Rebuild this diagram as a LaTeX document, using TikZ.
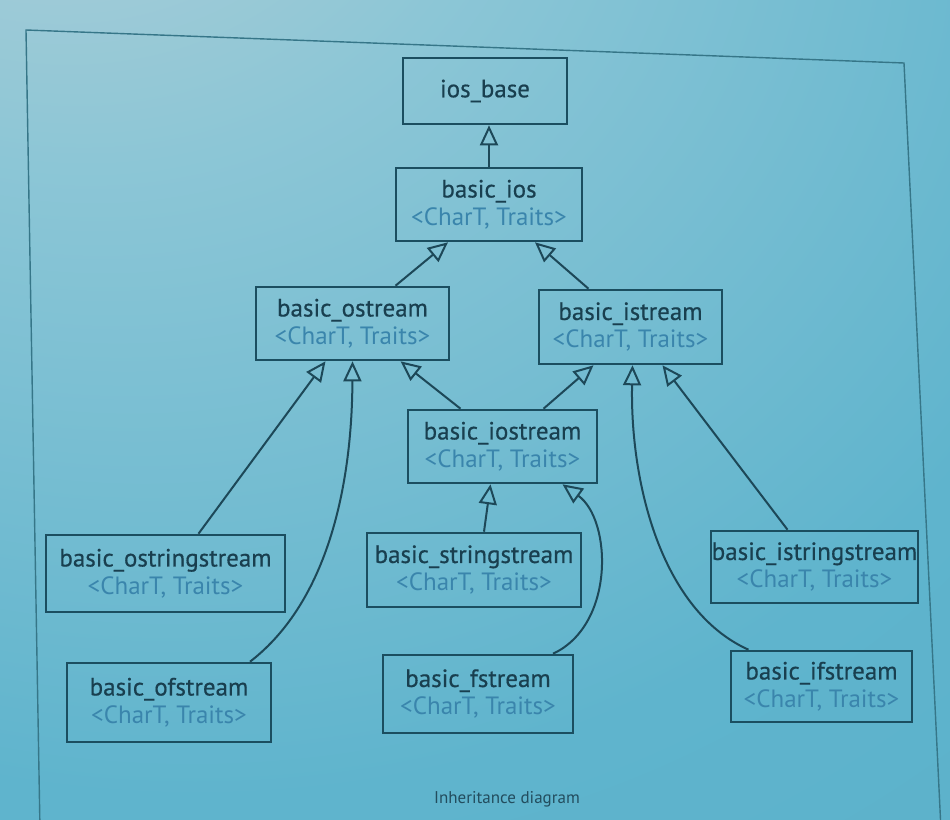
\documentclass[tikz,border=0pt]{standalone}
\usepackage{fontspec}
\setmainfont{PT Sans}
\usetikzlibrary{arrows.meta}
\definecolor{bgA}{HTML}{BED2D8}
\definecolor{bgB}{HTML}{8CC6D6}
\definecolor{bgC}{HTML}{5FB4CD}
\definecolor{bgD}{HTML}{4EA7C0}
\definecolor{boxc}{HTML}{1B4E60}
\definecolor{titlec}{HTML}{193F4F}
\definecolor{paramc}{HTML}{3A85AC}
\definecolor{linec}{HTML}{1D4858}
\definecolor{framec}{HTML}{367688}
\definecolor{captc}{HTML}{234D5E}
\pgfdeclareradialshading{photobg}{\pgfpoint{-25bp}{45bp}}{color(0bp)=(bgA); color(22bp)=(bgB); color(50bp)=(bgC); color(120bp)=(bgD)}
\newcommand\clsname[1]{\textcolor{titlec}{\addfontfeature{FakeBold=0.5}#1}}
\newcommand\clsparam{\textcolor{paramc}{<CharT, Traits>}}
\begin{document}
\begin{tikzpicture}[x=1pt,y=-1pt,
  cls/.style={draw=boxc, line width=2.6pt, inner sep=0pt, align=center,
    font=\fontsize{25}{28}\selectfont},
  inh/.style={draw=linec, line width=2pt,
    -{Triangle[open, length=20pt, width=18pt, line width=2pt]}}]
\useasboundingbox (0,0) rectangle (950,819);
\shade[shading=photobg] (0,0) rectangle (950,819);
% frame
\draw[framec, line width=1.4pt] (40,830) -- (26,30) -- (904,63) -- (941,830);
% classes
\node[cls, minimum width=164pt, minimum height=66pt] (iosbase) at (485,91) {\clsname{ios\_base}};
\node[cls, minimum width=186pt, minimum height=73pt] (ios) at (489,204.5) {\clsname{basic\_ios}\\\clsparam};
\node[cls, minimum width=193pt, minimum height=73pt] (ostream) at (352.5,323.5) {\clsname{basic\_ostream}\\\clsparam};
\node[cls, minimum width=183pt, minimum height=74pt] (istream) at (630.5,327) {\clsname{basic\_istream}\\\clsparam};
\node[cls, minimum width=189pt, minimum height=73pt] (iostream) at (502.5,446.5) {\clsname{basic\_iostream}\\\clsparam};
\node[cls, minimum width=239pt, minimum height=77pt] (ostringstream) at (165.5,573.5) {\clsname{basic\_ostringstream}\\\clsparam};
\node[cls, minimum width=204pt, minimum height=79pt] (ofstream) at (169,702.5) {\clsname{basic\_ofstream}\\\clsparam};
\node[cls, minimum width=214pt, minimum height=74pt] (stringstream) at (474,570) {\clsname{basic\_stringstream}\\\clsparam};
\node[cls, minimum width=190pt, minimum height=78pt] (fstream) at (478,694) {\clsname{basic\_fstream}\\\clsparam};
\node[cls, minimum width=207pt, minimum height=72pt] (istringstream) at (814.5,567) {\clsname{basic\_istringstream}\\\clsparam};
\node[cls, minimum width=181pt, minimum height=71pt] (ifstream) at (821.5,686.5) {\clsname{basic\_ifstream}\\\clsparam};
% inheritance connectors
\draw[inh] (ios.north) -- (ios.north |- iosbase.south);
\draw[inh] ([xshift=43pt]ostream.north) -- ([xshift=-41pt]ios.south);
\draw[inh] ([xshift=-42pt]istream.north) -- ([xshift=46pt]ios.south);
\draw[inh] ([xshift=-42pt]iostream.north) -- ([xshift=48pt]ostream.south);
\draw[inh] ([xshift=41pt]iostream.north) -- ([xshift=-37pt]istream.south);
\draw[inh] ([xshift=33pt]ostringstream.north) -- ([xshift=-27pt]ostream.south);
\draw[inh] ([xshift=81pt]ofstream.north) .. controls (330,600) and (352,480) .. (ostream.south);
\draw[inh] ([xshift=10pt]stringstream.north) -- ([xshift=-12pt]iostream.south);
\draw[inh] ([xshift=75pt]fstream.north) .. controls (615,625) and (612,520) .. ([xshift=60pt]iostream.south);
\draw[inh] ([xshift=-27pt]istringstream.north) -- ([xshift=32pt]istream.south);
\draw[inh] ([xshift=-73pt]ifstream.north) .. controls (660,610) and (630,480) .. ([xshift=2pt]istream.south);
% caption
\node[text=captc, font=\fontsize{17}{20}\selectfont] (caption) at (507,799) {Inheritance diagram};
\end{tikzpicture}
\end{document}
